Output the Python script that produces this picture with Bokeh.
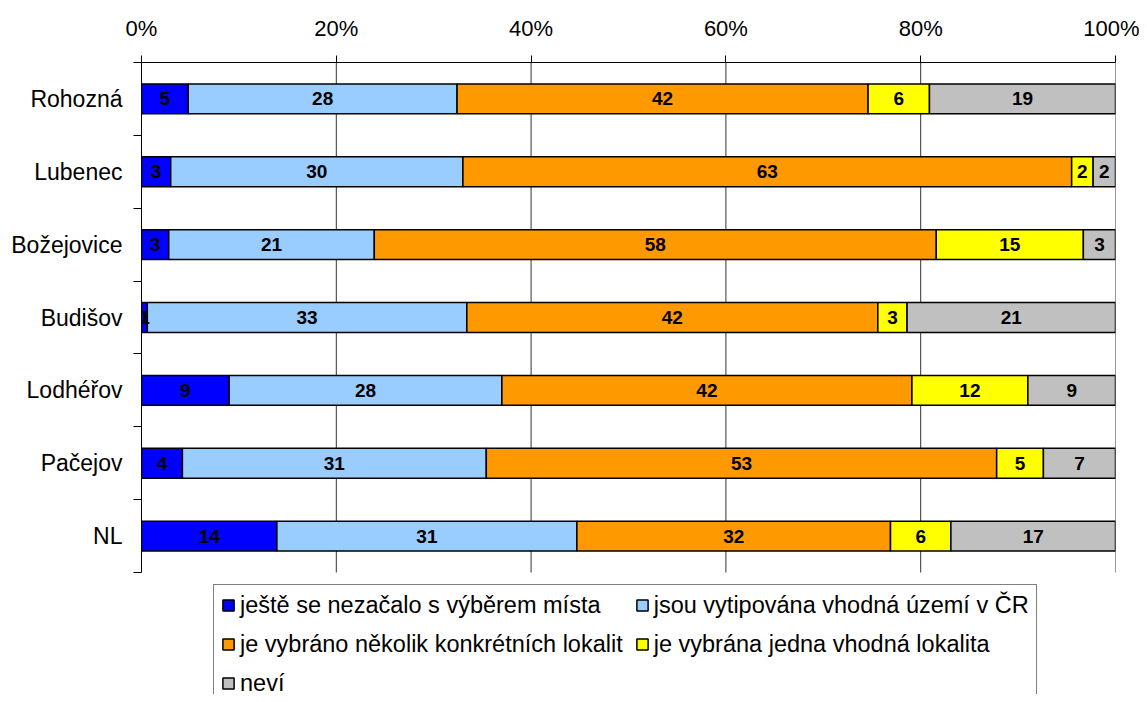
from bokeh.plotting import figure
from bokeh.models import (Range1d, FixedTicker, PrintfTickFormatter, Legend, LegendItem,
                          ColumnDataSource)
from bokeh.core.properties import value
from bokeh.embed import file_html
from bokeh.resources import INLINE
import numpy as np

categories = ["Rohozná", "Lubenec", "Božejovice", "Budišov", "Lodhéřov", "Pačejov", "NL"]
series_names = ["ještě se nezačalo s výběrem místa",
                "jsou vytipována vhodná území v ČR",
                "je vybráno několik konkrétních lokalit",
                "je vybrána jedna vhodná lokalita",
                "neví"]
# bar shares (percent)
s1 = [4.8, 3.0, 2.8, 0.6, 9.0, 4.2, 13.9]
s2 = [27.6, 30.0, 21.1, 32.8, 28.0, 31.2, 30.8]
s3 = [42.2, 62.5, 57.7, 42.2, 42.1, 52.4, 32.2]
s4 = [6.3, 2.2, 15.1, 3.0, 11.9, 4.8, 6.2]
s5 = [19.1, 2.3, 3.3, 21.4, 9.0, 7.4, 16.9]
# printed data labels
l1 = ["5", "3", "3", "1", "9", "4", "14"]
l2 = ["28", "30", "21", "33", "28", "31", "31"]
l3 = ["42", "63", "58", "42", "42", "53", "32"]
l4 = ["6", "2", "15", "3", "12", "5", "6"]
l5 = ["19", "2", "3", "21", "9", "7", "17"]
x_ticks = [0, 20, 40, 60, 80, 100]

colors = ["#0000FF", "#99CCFF", "#FF9900", "#FFFF00", "#C0C0C0"]
FONT = "Liberation Sans"

n = len(categories)
ypos = [i + 0.5 for i in range(n)]
keys = ["s1", "s2", "s3", "s4", "s5"]
src = ColumnDataSource(dict(y=ypos, s1=s1, s2=s2, s3=s3, s4=s4, s5=s5))

# layout: frame spans from the top axis down to the canvas bottom; the category
# area occupies the upper 510 px, the legend sits in the lower part.
W, H = 1139, 694
TOP, LEFT, RIGHT = 62, 141, 24
cat_px = 510
frame_h = H - TOP
y_end = n * frame_h / cat_px

p = figure(width=W, height=H, output_backend="svg", toolbar_location=None,
           x_range=Range1d(0, 100), y_range=Range1d(y_end, 0),
           x_axis_location="above", min_border_left=LEFT, min_border_right=RIGHT,
           min_border_top=TOP, min_border_bottom=0)
p.outline_line_color = None
p.background_fill_color = "white"

# vertical gridlines only across the category area
p.xgrid.visible = False
p.ygrid.visible = False
gx = x_ticks[1:]
p.segment(x0=gx, y0=[0] * len(gx), x1=gx, y1=[n] * len(gx),
          line_color="#333333", line_width=1)

rends = p.hbar_stack(keys, y="y", height=0.41, source=src, fill_color=colors,
                     line_color="black", line_width=1.5)

# data labels
vals = np.array([s1, s2, s3, s4, s5])
labs = [l1, l2, l3, l4, l5]
cum = np.cumsum(vals, axis=0)
for k in range(5):
    centers = cum[k] - vals[k] / 2.0
    p.text(x=list(centers), y=ypos, text=labs[k], text_font=value(FONT),
           text_font_size="19px", text_font_style="bold", text_color="black",
           text_align="center", text_baseline="middle")

# x axis (top)
xa = p.xaxis[0]
xa.ticker = FixedTicker(ticks=x_ticks)
xa.formatter = PrintfTickFormatter(format="%d%%")
xa.major_label_text_font = FONT
xa.major_label_text_font_size = "22px"
xa.major_label_text_color = "black"
xa.major_tick_out = 7
xa.major_tick_in = 0
xa.minor_tick_out = 0
xa.minor_tick_in = 0
xa.major_label_standoff = 15
xa.axis_line_color = "black"
xa.major_tick_line_color = "black"

# y axis (left), ticks between categories
ya = p.yaxis[0]
ya.bounds = (0, n)
ya.ticker = FixedTicker(ticks=ypos, minor_ticks=list(range(n + 1)))
ya.major_label_overrides = {y: c for y, c in zip(ypos, categories)}
ya.major_label_text_font = FONT
ya.major_label_text_font_size = "23px"
ya.major_label_text_color = "black"
ya.major_tick_out = 0
ya.major_tick_in = 0
ya.minor_tick_out = 8
ya.minor_tick_in = 0
ya.minor_tick_line_color = "black"
ya.major_label_standoff = 11
ya.axis_line_color = "black"

PAD, LH, SP = 7, 22, 12
ITEM_H = 26.5  # measured height of a legend row at this font size
LEG_H = 2 * PAD + 3 * ITEM_H + 2 * SP
LEG_TOP = 587
legend = Legend(items=[LegendItem(label=nm, renderers=[r]) for nm, r in zip(series_names, rends)],
                orientation="horizontal", ncols=2,
                location=(213 - LEFT, (H - LEG_TOP) - LEG_H),
                glyph_width=14, glyph_height=14, label_height=LH, label_standoff=5,
                spacing=SP, padding=PAD, margin=0,
                label_text_font=FONT, label_text_font_size="23.5px", label_text_color="black",
                border_line_color="black", border_line_width=1,
                background_fill_color="white", background_fill_alpha=1.0)
p.add_layout(legend, "center")

open("out.html", "w").write(file_html(p, INLINE))
